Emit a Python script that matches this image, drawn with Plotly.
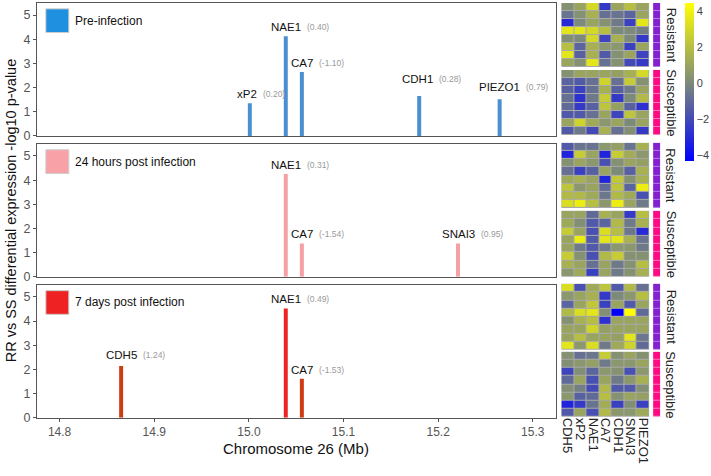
import plotly.graph_objects as go

# ---- data -------------------------------------------------------------------
PANEL_NAMES = ["Pre-infection", "24 hours post infection", "7 days post infection"]

PRE_GENES = ["xP2", "NAE1", "CA7", "CDH1", "PIEZO1"]
PRE_POS = [15.001, 15.039, 15.056, 15.180, 15.265]
PRE_LOGP = [1.35, 4.12, 2.65, 1.65, 1.52]
PRE_FC = ["0.20", "0.40", "-1.10", "0.28", "0.79"]

H24_GENES = ["NAE1", "CA7", "SNAI3"]
H24_POS = [15.039, 15.056, 15.221]
H24_LOGP = [4.25, 1.38, 1.38]
H24_FC = ["0.31", "-1.54", "0.95"]

D7_GENES = ["CDH5", "NAE1", "CA7"]
D7_POS = [14.865, 15.039, 15.056]
D7_LOGP = [2.14, 4.52, 1.61]
D7_FC = ["1.24", "0.49", "-1.53"]

HEAT_GENES = ["CDH5", "xP2", "NAE1", "CA7", "CDH1", "SNAI3", "PIEZO1"]
GROUPS = ["Resistant", "Susceptible"]

R_PRE = [
    [0.3, 1.0, 3.0, -2.5, 1.0, 2.0, 1.0],
    [-0.7, 0.3, 1.5, -0.8, -0.7, -1.2, 1.0],
    [-3.0, 0.0, 1.0, 0.3, -0.5, -2.3, 3.5],
    [3.5, 3.5, 3.0, 2.0, 0.0, 0.0, -0.3],
    [0.2, 0.0, 3.0, -2.2, 1.5, 0.0, -2.5],
    [2.0, -1.2, 1.5, 0.5, 0.5, -2.3, 1.0],
    [3.5, -1.3, 1.5, -1.5, 0.3, 1.0, -2.2],
    [1.0, 0.3, 3.5, -0.8, 0.3, -2.0, -2.5],
]
S_PRE = [
    [0.3, 1.0, 1.0, 1.0, 0.8, 1.5, 3.0],
    [-1.2, -1.5, -0.8, 2.8, -0.8, 2.5, 0.3],
    [-1.3, -2.3, -0.8, 1.5, -1.3, -0.5, 1.0],
    [-0.8, -2.8, -0.5, 2.5, -2.5, 0.0, 1.8],
    [-1.0, -2.5, -1.3, 2.2, 0.8, -1.3, -2.8],
    [-1.5, -1.5, -0.8, 1.0, -2.2, 2.2, 1.0],
    [1.0, 2.8, 1.2, 0.5, 1.0, 0.0, 1.0],
    [-1.5, -0.5, -2.0, 1.5, -0.8, 0.2, -2.5],
]
R_24H = [
    [-1.5, -0.7, -0.7, 0.5, 0.8, -0.7, 1.5],
    [-3.2, 2.5, 1.0, -3.2, 2.5, 1.3, 0.5],
    [0.3, 1.0, 0.5, -1.8, 0.3, 1.0, 0.8],
    [-0.8, -2.3, -1.3, 1.0, 0.0, -1.3, 1.5],
    [1.2, 1.5, 1.0, -3.2, 2.3, 0.3, 1.5],
    [2.2, 0.5, 1.0, -1.0, 2.2, -1.2, 3.8],
    [1.8, 1.8, 1.2, -0.6, 1.8, 1.2, -1.8],
    [3.2, 3.8, 2.0, 0.5, 3.8, 1.0, -0.5],
]
S_24H = [
    [1.0, 1.0, -1.0, 1.5, 1.0, -2.5, 2.0],
    [1.2, 0.2, -1.5, -1.2, 1.8, -0.5, 1.5],
    [2.5, 1.0, -1.8, 3.2, 2.0, -0.6, -3.0],
    [1.0, 3.8, -1.5, 3.5, 3.5, 1.5, -0.7],
    [1.0, -0.5, -1.5, -0.5, 0.5, 0.5, -0.5],
    [2.5, 0.3, -1.8, 1.8, 2.5, 0.3, 0.3],
    [1.5, 1.0, -0.8, 1.0, -0.5, 0.3, 2.0],
    [0.5, 1.2, -2.3, 1.0, -0.5, 0.3, 1.5],
]
R_7D = [
    [3.2, -1.8, 1.2, 2.2, -1.5, 1.8, -0.8],
    [0.5, 1.0, 1.5, -2.5, 0.0, 0.5, 2.0],
    [-1.2, 1.0, 2.3, -2.3, 1.0, -1.5, 1.0],
    [1.8, 3.2, 3.5, 0.2, -4.33, 4.44, -1.0],
    [0.3, 1.5, 2.0, -2.8, 1.0, 1.0, 1.0],
    [1.0, 1.0, 2.8, 0.8, 1.0, 1.0, 1.0],
    [1.0, 2.0, 1.0, 1.0, 0.8, 3.5, -0.6],
    [3.5, 0.5, 3.2, -0.5, 1.2, 2.8, -1.0],
]
S_7D = [
    [0.3, -0.8, -0.6, 2.5, 0.3, 1.0, 0.3],
    [0.2, 0.5, 0.8, -0.5, 0.5, 0.5, 1.0],
    [-2.2, 0.2, -1.2, 0.5, 0.3, -1.8, 0.5],
    [-1.0, 1.0, -1.8, 1.0, -0.5, 0.5, 1.5],
    [0.2, -0.3, -2.0, 1.8, -1.5, -1.5, 0.2],
    [0.5, -1.3, -1.0, 2.0, 0.3, 1.0, 0.8],
    [-3.2, -2.5, -0.7, 1.3, -2.3, 0.2, -2.3],
    [-1.5, 1.0, -1.8, 1.8, 0.5, 0.5, 1.2],
]

COLORBAR_TICKS = [-4, -2, 0, 2, 4]
X_TICKS = [14.8, 14.9, 15.0, 15.1, 15.2, 15.3]

# ---- style ------------------------------------------------------------------
FONT = "Arial, 'Liberation Sans', sans-serif"
W, H = 711, 476
PANEL_X = (36, 557)                       # px
PANEL_Y = [(3, 138), (146, 281), (289, 424)]
HEAT_X = (562, 650)
ANNOT_X = (654, 661)
HEAT_Y = [(3, 68), (71, 137), (145, 211), (214, 281), (288, 355), (357, 423)]
CBAR_Y = (3, 163)
KEY_COLORS = ["#1f8fe0", "#f8a2a8", "#ee2222"]
BAR_COLORS = [
    {"*": "#4a90d0"},
    {"*": "#f5a0a5"},
    {"NAE1": "#ee2424", "*": "#cf3c12"},
]
GROUP_COLORS = {"Resistant": "#8420d0", "Susceptible": "#ff0a82"}
GROUP_LINES = {"Resistant": "#b07ae6", "Susceptible": "#ff7ab8"}
NUDGE = {(0, "xP2"): (-3, 0), (0, "CDH1"): (-2, 8), (0, "PIEZO1"): (0, 3), (2, "CDH5"): (0, 2)}
COLORSCALE = [[0, "#0000ff"], [0.494, "#7c8a7a"], [1, "#ffff00"]]
ZMIN, ZMAX = -4.33, 4.44


def fx(px):
    return px / W


def fy(py):
    return 1 - py / H


ARIAL = {"A": 667, "C": 722, "D": 722, "E": 667, "H": 722, "I": 278, "N": 722,
         "O": 778, "P": 667, "S": 667, "Z": 611, "x": 500}


def text_w(s, size):
    return sum(ARIAL.get(c, 556) for c in s) * size / 1000


fig = go.Figure()
layout = dict(
    width=W, height=H, margin=dict(l=0, r=0, t=0, b=0),
    paper_bgcolor="white", plot_bgcolor="white",
    font=dict(family=FONT, color="#222"), showlegend=False,
)
annotations, shapes = [], []

panels = [
    (PRE_GENES, PRE_POS, PRE_LOGP, PRE_FC),
    (H24_GENES, H24_POS, H24_LOGP, H24_FC),
    (D7_GENES, D7_POS, D7_LOGP, D7_FC),
]

for i, (genes, pos, logp, fc) in enumerate(panels):
    n = i + 1
    xa, ya = f"x{n if n > 1 else ''}", f"y{n if n > 1 else ''}"
    colors = [BAR_COLORS[i].get(g, BAR_COLORS[i]["*"]) for g in genes]
    fig.add_trace(go.Bar(x=pos, y=logp, width=0.0042, marker=dict(color=colors, line_width=0),
                         xaxis=xa, yaxis=ya, hoverinfo="x+y"))
    last = i == 2
    layout[f"xaxis{n if n > 1 else ''}"] = dict(
        domain=[fx(PANEL_X[0]), fx(PANEL_X[1])], anchor=ya, range=[14.776, 15.325],
        showgrid=False, zeroline=False, showline=True, mirror=True, linecolor="#555", linewidth=1,
        tickvals=X_TICKS if last else [],
        ticktext=[f"{t:.1f}" for t in X_TICKS] if last else [],
        ticks="outside" if last else "", ticklen=3, tickcolor="#555",
        tickfont=dict(size=12, color="#555"),
    )
    layout[f"yaxis{n if n > 1 else ''}"] = dict(
        domain=[fy(PANEL_Y[i][1]), fy(PANEL_Y[i][0])], anchor=xa, range=[0, 5.5],
        showgrid=False, zeroline=False, showline=True, mirror=True, linecolor="#555", linewidth=1,
        tickvals=[0, 1, 2, 3, 4, 5], ticks="outside", ticklen=3, tickcolor="#555",
        tickfont=dict(size=12.5, color="#555"),
    )
    # legend key
    shapes.append(dict(type="rect", xref=f"{xa} domain", yref=f"{ya} domain",
                       x0=9 / 521, x1=32 / 521, y0=1 - 30 / 135, y1=1 - 6 / 135,
                       fillcolor=KEY_COLORS[i], line=dict(color="#ccc", width=1)))
    annotations.append(dict(xref=f"{xa} domain", yref=f"{ya} domain", x=36 / 521, y=1 - 18 / 135,
                            xanchor="left", yanchor="middle", showarrow=False,
                            text=PANEL_NAMES[i], font=dict(size=12, color="#111")))
    # gene labels
    for g, p, v, f in zip(genes, pos, logp, fc):
        dx, dy = NUDGE.get((i, g), (0, 0))
        annotations.append(dict(xref=xa, yref=ya, x=p, y=v, xanchor="center", yanchor="bottom",
                                xshift=dx, yshift=1 + dy, showarrow=False, text=g,
                                font=dict(size=11.5, color="#111")))
        annotations.append(dict(xref=xa, yref=ya, x=p, y=v, xanchor="left", yanchor="bottom",
                                xshift=dx + text_w(g, 11.5) / 2 + 4, yshift=2 + dy, showarrow=False,
                                text=f"({f})", font=dict(size=8.5, color="#999")))

# ---- heatmaps -----------------------------------------------------------------
blocks = [R_PRE, S_PRE, R_24H, S_24H, R_7D, S_7D]
cols = list(range(len(HEAT_GENES)))
for b, z in enumerate(blocks):
    n, m = 4 + b, 10 + b
    grp = GROUPS[b % 2]
    y0, y1 = HEAT_Y[b]
    fig.add_trace(go.Heatmap(z=z, x=cols, coloraxis="coloraxis", xgap=1, ygap=1,
                             xaxis=f"x{n}", yaxis=f"y{n}"))
    last = b == 5
    layout[f"xaxis{n}"] = dict(domain=[fx(HEAT_X[0]), fx(HEAT_X[1])], anchor=f"y{n}",
                               range=[-0.5, 6.5], showgrid=False, zeroline=False,
                               tickmode="array", tickvals=cols if last else [],
                               ticktext=HEAT_GENES if last else [], ticks="", tickangle=90,
                               tickfont=dict(size=13, color="#222"), fixedrange=True)
    layout[f"yaxis{n}"] = dict(domain=[fy(y1), fy(y0)], anchor=f"x{n}", range=[7.5, -0.5],
                               visible=False)
    shapes.append(dict(type="rect", xref=f"x{n}", yref=f"y{n}", x0=-0.56, x1=6.56, y0=-0.56,
                       y1=7.56, fillcolor="#a9a9a9", line_width=0, layer="below"))

    # group annotation bar
    fig.add_trace(go.Heatmap(z=[[0]] * 8, colorscale=[[0, GROUP_COLORS[grp]], [1, GROUP_COLORS[grp]]],
                             showscale=False, ygap=1, xaxis=f"x{m}", yaxis=f"y{m}", hoverinfo="skip"))
    layout[f"xaxis{m}"] = dict(domain=[fx(ANNOT_X[0]), fx(ANNOT_X[1])], anchor=f"y{m}",
                               range=[-0.5, 0.5], visible=False)
    layout[f"yaxis{m}"] = dict(domain=[fy(y1), fy(y0)], anchor=f"x{m}", range=[7.5, -0.5],
                               visible=False)
    shapes.append(dict(type="rect", xref=f"x{m}", yref=f"y{m}", x0=-0.6, x1=0.6, y0=-0.56,
                       y1=7.56, fillcolor=GROUP_LINES[grp], line_width=0, layer="below"))
    annotations.append(dict(xref="paper", yref="paper", x=fx(672), y=fy((y0 + y1) / 2),
                            xanchor="center", yanchor="middle", textangle=90, showarrow=False,
                            text=grp, font=dict(size=13, color="#222")))

layout["coloraxis"] = dict(
    colorscale=COLORSCALE, cmin=ZMIN, cmax=ZMAX,
    colorbar=dict(x=fx(686), xanchor="left", y=fy(CBAR_Y[0]), yanchor="top",
                  len=(CBAR_Y[1] - CBAR_Y[0]) / H, thickness=9, outlinewidth=0, xpad=0, ypad=0,
                  tickvals=COLORBAR_TICKS, ticks="", tickfont=dict(size=11, color="#444")),
)

# axis titles
annotations.append(dict(xref="paper", yref="paper", x=fx(10), y=fy(213.5), textangle=-90,
                        showarrow=False, xanchor="center", yanchor="middle",
                        text="RR vs SS differential expression -log10 p-value",
                        font=dict(size=14.5, color="#111")))
annotations.append(dict(xref="paper", yref="paper", x=fx(296), y=fy(455), showarrow=False,
                        xanchor="center", yanchor="middle", text="Chromosome 26 (Mb)",
                        font=dict(size=15, color="#111")))

layout["annotations"] = annotations
layout["shapes"] = shapes
fig.update_layout(**layout)

# the default page has an 8px body margin; drop it so the figure fills the window
fig.write_html("out.html", config={"displayModeBar": False},
               post_script="document.body.style.margin = '0';")
